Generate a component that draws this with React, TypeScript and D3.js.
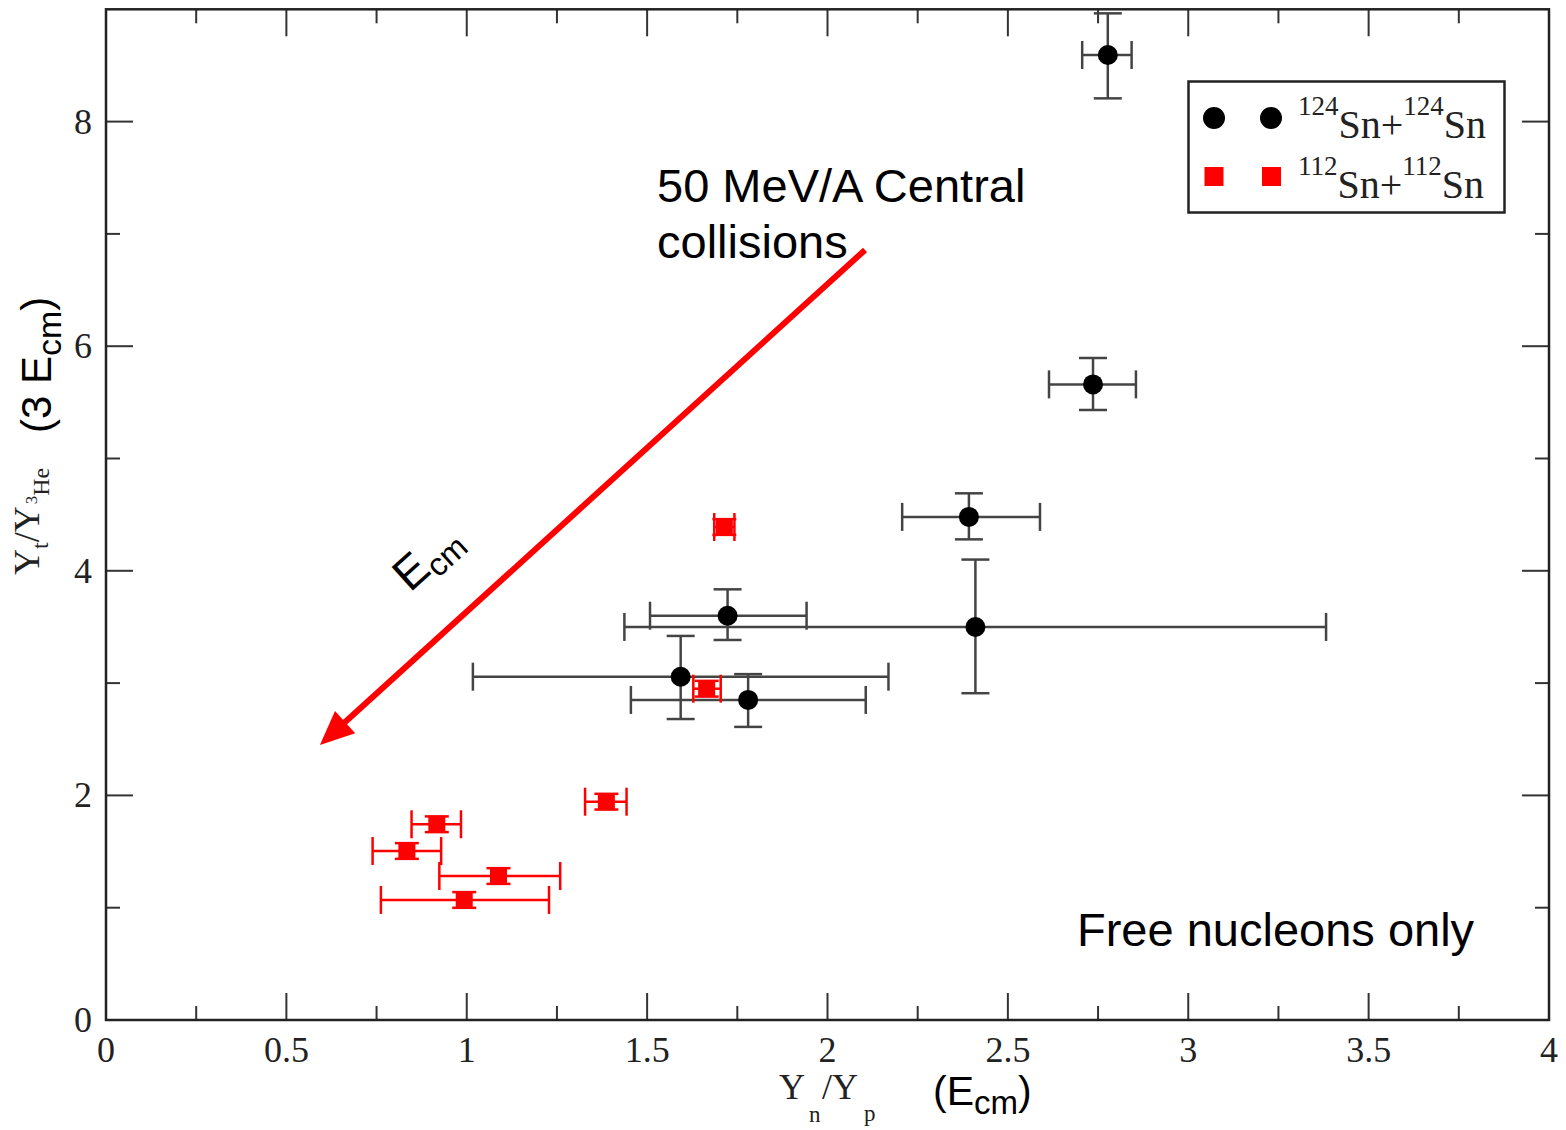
import React from 'react';
import * as d3 from 'd3';

const W = 1566;
const H = 1130;

// Axis domains and ticks
const xDomain: [number, number] = [0, 4];
const yDomain: [number, number] = [0, 9];
const xMajorTicks = [0, 0.5, 1, 1.5, 2, 2.5, 3, 3.5, 4];
const xTickLabels = ['0', '0.5', '1', '1.5', '2', '2.5', '3', '3.5', '4'];
const xMinorTicks = [0.25, 0.75, 1.25, 1.75, 2.25, 2.75, 3.25, 3.75];
const yMajorTicks = [0, 2, 4, 6, 8];
const yTickLabels = ['0', '2', '4', '6', '8'];
const yMinorTicks = [1, 3, 5, 7];

// 124Sn+124Sn (black circles)
const snA_x = [2.777, 2.736, 2.392, 2.41, 1.723, 1.593, 1.78];
const snA_y = [8.593, 5.66, 4.48, 3.5, 3.6, 3.057, 2.85];
const snA_xlo = [2.706, 2.614, 2.207, 1.437, 1.508, 1.017, 1.455];
const snA_xhi = [2.843, 2.855, 2.589, 3.382, 1.942, 2.169, 2.106];
const snA_ylo = [8.207, 5.432, 4.28, 2.91, 3.384, 2.68, 2.61];
const snA_yhi = [8.964, 5.895, 4.69, 4.1, 3.835, 3.42, 3.08];

// 112Sn+112Sn (red squares)
const snB_x = [1.714, 1.665, 1.387, 0.917, 0.834, 1.088, 0.993];
const snB_y = [4.39, 2.95, 1.944, 1.743, 1.505, 1.282, 1.069];
const snB_xlo = [1.686, 1.628, 1.328, 0.847, 0.739, 0.924, 0.762];
const snB_xhi = [1.742, 1.704, 1.443, 0.984, 0.929, 1.259, 1.228];
const snB_ylo = [4.32, 2.88, 1.874, 1.673, 1.435, 1.212, 0.999];
const snB_yhi = [4.46, 3.02, 2.014, 1.813, 1.575, 1.352, 1.139];

// Arrow annotation (data units): from -> to
const arrowFrom = [2.104, 6.857];
const arrowTo = [0.593, 2.449];

const SERIF = '"Liberation Serif", "Times New Roman", serif';
const SANS = '"Liberation Sans", Arial, sans-serif';

export default function App() {
  const x = d3.scaleLinear().domain(xDomain).range([106, 1549]);
  const y = d3.scaleLinear().domain(yDomain).range([1020, 9.3]);
  const [x0, x1] = x.range();
  const [y0, y1] = y.range();

  const frameColor = '#222';
  const tickColor = '#333';
  const majorLen = 27;
  const minorLen = 14;

  const black = snA_x.map((v, i) => ({
    x: v, y: snA_y[i], xlo: snA_xlo[i], xhi: snA_xhi[i], ylo: snA_ylo[i], yhi: snA_yhi[i],
  }));
  const red = snB_x.map((v, i) => ({
    x: v, y: snB_y[i], xlo: snB_xlo[i], xhi: snB_xhi[i], ylo: snB_ylo[i], yhi: snB_yhi[i],
  }));

  // arrow geometry
  const ax1 = x(arrowFrom[0]);
  const ay1 = y(arrowFrom[1]);
  const ax2 = x(arrowTo[0]);
  const ay2 = y(arrowTo[1]);
  const ang = Math.atan2(ay2 - ay1, ax2 - ax1);
  const headLen = 34;
  const headHalf = 15;
  const bx = ax2 - headLen * Math.cos(ang);
  const by = ay2 - headLen * Math.sin(ang);
  const px = -Math.sin(ang);
  const py = Math.cos(ang);
  const head = `M${ax2},${ay2} L${bx + headHalf * px},${by + headHalf * py} L${bx - headHalf * px},${by - headHalf * py} Z`;
  const lineEndX = ax2 - (headLen - 4) * Math.cos(ang);
  const lineEndY = ay2 - (headLen - 4) * Math.sin(ang);

  const errColBlack = '#444';
  const errColRed = '#ff0000';

  return (
    <svg width={W} height={H} style={{ position: 'absolute', left: 0, top: 0, background: '#fff' }}>
      <rect x={0} y={0} width={W} height={H} fill="#fff" />

      {/* ticks */}
      <g stroke={tickColor} strokeWidth={2}>
        {xMajorTicks.map((t, i) => (
          <g key={'xm' + i}>
            <line x1={x(t)} x2={x(t)} y1={y0} y2={y0 - majorLen} />
            <line x1={x(t)} x2={x(t)} y1={y1} y2={y1 + majorLen} />
          </g>
        ))}
        {xMinorTicks.map((t, i) => (
          <g key={'xn' + i}>
            <line x1={x(t)} x2={x(t)} y1={y0} y2={y0 - minorLen} />
            <line x1={x(t)} x2={x(t)} y1={y1} y2={y1 + minorLen} />
          </g>
        ))}
        {yMajorTicks.map((t, i) => (
          <g key={'ym' + i}>
            <line x1={x0} x2={x0 + majorLen} y1={y(t)} y2={y(t)} />
            <line x1={x1} x2={x1 - majorLen} y1={y(t)} y2={y(t)} />
          </g>
        ))}
        {yMinorTicks.map((t, i) => (
          <g key={'yn' + i}>
            <line x1={x0} x2={x0 + minorLen} y1={y(t)} y2={y(t)} />
            <line x1={x1} x2={x1 - minorLen} y1={y(t)} y2={y(t)} />
          </g>
        ))}
      </g>

      {/* frame */}
      <rect x={x0} y={y1} width={x1 - x0} height={y0 - y1} fill="none" stroke={frameColor} strokeWidth={2.5} />

      {/* tick labels */}
      <g fontFamily={SERIF} fontSize={36} fill="#222">
        {xMajorTicks.map((t, i) => (
          <text key={'xl' + i} x={x(t)} y={1062} textAnchor="middle">{xTickLabels[i]}</text>
        ))}
        {yMajorTicks.map((t, i) => (
          <text key={'yl' + i} x={92} y={y(t) + 12} textAnchor="end">{yTickLabels[i]}</text>
        ))}
      </g>

      {/* x axis label */}
      <text fontFamily={SERIF} fill="#222">
        <tspan x={779} y={1099} fontSize={36}>Y</tspan>
        <tspan x={809} y={1122} fontSize={23}>n</tspan>
        <tspan x={822} y={1099} fontSize={36}>/Y</tspan>
        <tspan x={864} y={1121} fontSize={23}>p</tspan>
      </text>
      <text fontFamily={SANS} fill="#000" y={1105}>
        <tspan x={933} fontSize={41}>(E</tspan>
        <tspan dy={9} fontSize={33}>cm</tspan>
        <tspan dy={-9} fontSize={41}>)</tspan>
      </text>

      {/* y axis label */}
      <g transform="translate(39,575) rotate(-90)">
        <text fontFamily={SERIF} fill="#222" x={0} y={0}>
          <tspan fontSize={36}>Y</tspan>
          <tspan dy={9} fontSize={24}>t</tspan>
          <tspan dy={-9} fontSize={36}>/Y</tspan>
          <tspan dy={-2} dx={2} fontSize={17}>3</tspan>
          <tspan dy={12} fontSize={24}>He</tspan>
        </text>
      </g>
      <g transform="translate(51,433) rotate(-90)">
        <text fontFamily={SANS} fill="#000" x={0} y={0}>
          <tspan fontSize={42}>(3 E</tspan>
          <tspan dy={10} fontSize={34}>cm</tspan>
          <tspan dy={-10} fontSize={42}>)</tspan>
        </text>
      </g>

      {/* black error bars */}
      <g stroke={errColBlack} strokeWidth={2.5} fill="none">
        {black.map((d, i) => (
          <g key={'be' + i}>
            <line x1={x(d.xlo)} x2={x(d.xhi)} y1={y(d.y)} y2={y(d.y)} />
            <line x1={x(d.xlo)} x2={x(d.xlo)} y1={y(d.y) - 14} y2={y(d.y) + 14} />
            <line x1={x(d.xhi)} x2={x(d.xhi)} y1={y(d.y) - 14} y2={y(d.y) + 14} />
            <line x1={x(d.x)} x2={x(d.x)} y1={y(d.ylo)} y2={y(d.yhi)} />
            <line x1={x(d.x) - 14} x2={x(d.x) + 14} y1={y(d.ylo)} y2={y(d.ylo)} />
            <line x1={x(d.x) - 14} x2={x(d.x) + 14} y1={y(d.yhi)} y2={y(d.yhi)} />
          </g>
        ))}
      </g>

      {/* red error bars */}
      <g stroke={errColRed} strokeWidth={2.5} fill="none">
        {red.map((d, i) => (
          <g key={'re' + i}>
            <line x1={x(d.xlo)} x2={x(d.xhi)} y1={y(d.y)} y2={y(d.y)} />
            <line x1={x(d.xlo)} x2={x(d.xlo)} y1={y(d.y) - 14} y2={y(d.y) + 14} />
            <line x1={x(d.xhi)} x2={x(d.xhi)} y1={y(d.y) - 14} y2={y(d.y) + 14} />
            <line x1={x(d.x)} x2={x(d.x)} y1={y(d.ylo)} y2={y(d.yhi)} />
            <line x1={x(d.x) - 12} x2={x(d.x) + 12} y1={y(d.ylo)} y2={y(d.ylo)} />
            <line x1={x(d.x) - 12} x2={x(d.x) + 12} y1={y(d.yhi)} y2={y(d.yhi)} />
          </g>
        ))}
      </g>

      {/* markers */}
      {black.map((d, i) => (
        <circle key={'bc' + i} cx={x(d.x)} cy={y(d.y)} r={10} fill="#000" />
      ))}
      {red.map((d, i) => (
        <rect key={'rs' + i} x={x(d.x) - 8.5} y={y(d.y) - 8.5} width={17} height={17} fill="#ff0000" />
      ))}

      {/* arrow */}
      <line x1={ax1} y1={ay1} x2={lineEndX} y2={lineEndY} stroke="#ff0000" strokeWidth={6} />
      <path d={head} fill="#ff0000" />

      {/* annotations */}
      <g fontFamily={SANS} fill="#000">
        <text x={657} y={202} fontSize={47}>50 MeV/A Central</text>
        <text x={657} y={258} fontSize={47}>collisions</text>
        <text x={1077} y={946} fontSize={47}>Free nucleons only</text>
        <g transform="translate(410,593) rotate(-42)">
          <text x={0} y={0}>
            <tspan fontSize={46}>E</tspan>
            <tspan dy={8} fontSize={32}>cm</tspan>
          </text>
        </g>
      </g>

      {/* legend */}
      <rect x={1188.5} y={81.5} width={316} height={131} fill="#fff" stroke="#222" strokeWidth={2.5} />
      <circle cx={1214} cy={118} r={11} fill="#000" />
      <circle cx={1271} cy={118} r={11} fill="#000" />
      <rect x={1204.5} y={167} width={19} height={19} fill="#ff0000" />
      <rect x={1262} y={167} width={19} height={19} fill="#ff0000" />
      <text fontFamily={SERIF} fill="#222" x={1298} y={138}>
        <tspan dy={-23} fontSize={27}>124</tspan>
        <tspan dy={23} fontSize={40}>Sn+</tspan>
        <tspan dy={-23} fontSize={27}>124</tspan>
        <tspan dy={23} fontSize={40}>Sn</tspan>
      </text>
      <text fontFamily={SERIF} fill="#222" x={1298} y={198}>
        <tspan dy={-23} fontSize={27}>112</tspan>
        <tspan dy={23} fontSize={40}>Sn+</tspan>
        <tspan dy={-23} fontSize={27}>112</tspan>
        <tspan dy={23} fontSize={40}>Sn</tspan>
      </text>
    </svg>
  );
}
